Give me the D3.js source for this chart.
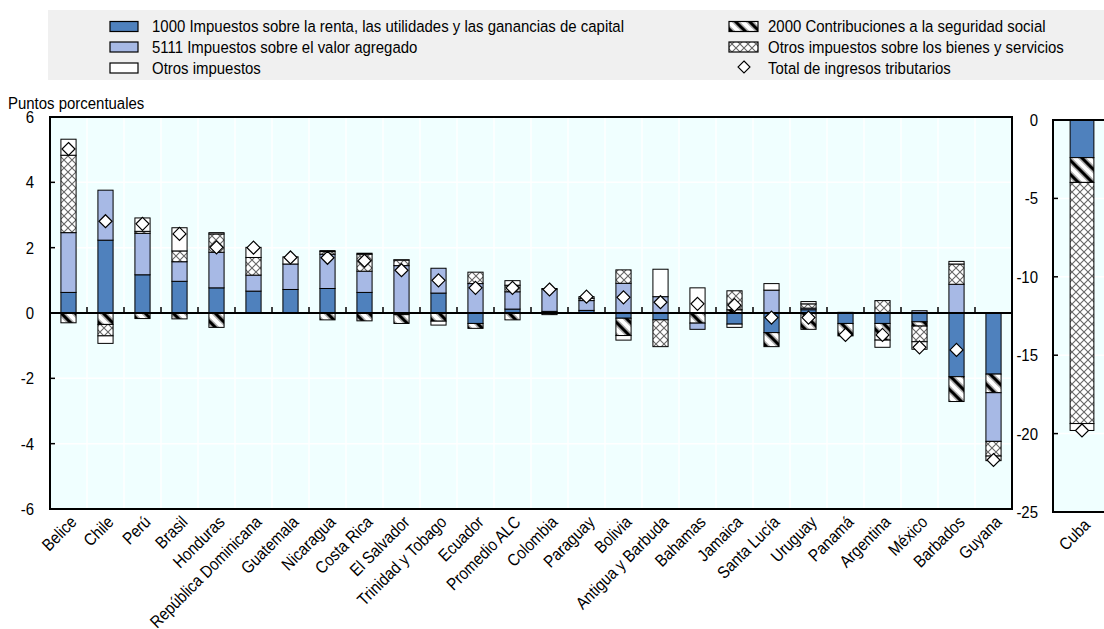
<!DOCTYPE html>
<html><head><meta charset="utf-8">
<script src="https://cdn.jsdelivr.net/npm/d3@7"></script>
<style>
body{margin:0;background:#fff;}
text{font-family:"Liberation Sans","Arial",sans-serif;fill:#000;}
</style></head>
<body><svg id="chart" width="1104" height="629"></svg>
<script>
const categories = ["Belice","Chile","Perú","Brasil","Honduras","República Dominicana","Guatemala","Nicaragua","Costa Rica","El Salvador","Trinidad y Tobago","Ecuador","Promedio ALC","Colombia","Paraguay","Bolivia","Antigua y Barbuda","Bahamas","Jamaica","Santa Lucía","Uruguay","Panamá","Argentina","México","Barbados","Guyana"];
const income    = [0.63,2.23,1.17,0.97,0.77,0.67,0.72,0.75,0.63,-0.05,0.61,-0.32,0.12,0.05,0.08,-0.16,-0.21,0,-0.34,-0.6,0.1,-0.32,-0.32,-0.27,-1.95,-1.87];
const socialSec = [-0.3,-0.35,-0.17,-0.18,-0.44,0,0,-0.21,-0.24,-0.27,-0.25,-0.15,-0.21,-0.05,0,-0.53,0,-0.31,0.1,-0.43,-0.5,-0.38,-0.51,-0.13,-0.76,-0.57];
const vat       = [1.83,1.53,1.27,0.6,1.09,0.49,0.78,1.05,0.65,1.45,0.76,0.9,0.53,0.68,0.3,0.91,0.5,-0.19,0,0.7,0.05,0,0,0.07,0.88,-1.49];
const goods     = [2.37,-0.35,0.06,0.33,0.56,0.54,0,0.08,0.52,0.17,0,0.35,0.2,0,0.07,0.41,-0.82,0,0.58,0,0.13,0,0.38,-0.48,0.62,-0.45];
const others    = [0.49,-0.23,0.41,0.71,0.04,0.31,0.22,0.03,0.03,0.01,-0.12,0,0.14,0.02,0.05,-0.14,0.84,0.77,-0.1,0.2,0.07,0.02,-0.22,-0.23,0.08,-0.14];
const totals    = [5.02,2.81,2.73,2.42,2.01,2.0,1.7,1.69,1.6,1.31,1.0,0.77,0.77,0.72,0.5,0.48,0.33,0.28,0.24,-0.14,-0.14,-0.67,-0.67,-1.05,-1.13,-4.5];

const cubaCategories = ["Cuba"];
const cubaIncome = [-2.4];
const cubaSocialSec = [-1.58];
const cubaVat = [0];
const cubaGoods = [-15.38];
const cubaOthers = [-0.44];
const cubaTotals = [-19.8];

const leftTicks = [-6,-4,-2,0,2,4,6];
const rightTicks = [-25,-20,-15,-10,-5,0];

const legendLeft = [
  {key:"income", label:"1000 Impuestos sobre la renta, las utilidades y las ganancias de capital"},
  {key:"vat", label:"5111 Impuestos sobre el valor agregado"},
  {key:"others", label:"Otros impuestos"}];
const legendRight = [
  {key:"ss", label:"2000 Contribuciones a la seguridad social"},
  {key:"goods", label:"Otros impuestos sobre los bienes y servicios"},
  {key:"total", label:"Total de ingresos tributarios"}];

const FS = 17, SX = 0.88;
const keys = ["income","ss","vat","goods","others"];
const svg = d3.select("#chart");
const defs = svg.append("defs");

// patterns
const pSS = defs.append("pattern").attr("id","pSS").attr("patternUnits","userSpaceOnUse")
  .attr("width",14).attr("height",14);
pSS.append("rect").attr("width",14).attr("height",14).attr("fill","#fff");
const diagPath = "M-2,-2 L16,16 M-2,12 L2,16 M12,-2 L16,2";
pSS.append("path").attr("d",diagPath).attr("stroke","#aaa").attr("stroke-width",6);
pSS.append("path").attr("d",diagPath).attr("stroke","#000").attr("stroke-width",3);

const pX = defs.append("pattern").attr("id","pX").attr("patternUnits","userSpaceOnUse")
  .attr("width",8).attr("height",8);
pX.append("rect").attr("width",8).attr("height",8).attr("fill","#fff");
pX.append("path").attr("d","M0,0 L8,8 M8,0 L0,8").attr("stroke","#666").attr("stroke-width",1.1);

const fills = {income:"#4f81bd", ss:"url(#pSS)", vat:"#a7b9e5", goods:"url(#pX)", others:"#ffffff"};

function ntext(parent, x, y, str, anchor, rotate){
  return parent.append("text")
    .attr("transform",`translate(${x},${y})${rotate?` rotate(${rotate})`:""} scale(${SX},1)`)
    .attr("text-anchor",anchor||"start").attr("dy","0.35em").attr("font-size",FS).text(str);
}

// legend
svg.append("rect").attr("x",48).attr("y",10).attr("width",1056).attr("height",70).attr("fill","#f0f0f0");
const rowsY = [26.5,47,68];
legendLeft.forEach((d,i)=>{
  svg.append("rect").attr("x",110).attr("y",rowsY[i]-5).attr("width",28).attr("height",10)
    .attr("fill",fills[d.key]).attr("stroke","#000").attr("stroke-width",1.2);
  ntext(svg,152,rowsY[i],d.label);
});
legendRight.forEach((d,i)=>{
  if(d.key==="total"){
    const cx=744, cy=rowsY[i]-1;
    svg.append("path").attr("d",`M${cx},${cy-6} L${cx+6},${cy} L${cx},${cy+6} L${cx-6},${cy} Z`)
      .attr("fill","#fff").attr("stroke","#000").attr("stroke-width",1.1);
  } else {
    svg.append("rect").attr("x",729).attr("y",rowsY[i]-5).attr("width",29).attr("height",10)
      .attr("fill",fills[d.key]).attr("stroke","#000").attr("stroke-width",1.2);
  }
  ntext(svg,768,rowsY[i],d.label);
});

ntext(svg,8,103,"Puntos porcentuales");

function panel(opts){
  const {x0,x1,y0,y1,domain,ticks,cats,rows,tot,barFrac,labelX,showVGrid} = opts;
  const x = d3.scaleBand().domain(cats).range([x0,x1]);
  const y = d3.scaleLinear().domain(domain).range([y1,y0]);
  const g = svg.append("g");
  g.append("rect").attr("x",x0).attr("y",y0).attr("width",x1-x0).attr("height",y1-y0).attr("fill","#f0ffff");
  g.selectAll(".hg").data(ticks.filter(t=>t!==domain[0]&&t!==domain[1]&&t!==0)).join("line")
    .attr("x1",x0).attr("x2",x1).attr("y1",d=>y(d)).attr("y2",d=>y(d)).attr("stroke","#fff").attr("stroke-width",1.5);
  if(showVGrid){
    g.selectAll(".vg").data(cats.slice(1)).join("line")
      .attr("x1",d=>x(d)).attr("x2",d=>x(d)).attr("y1",y0).attr("y2",y1).attr("stroke","#fff").attr("stroke-width",1.5);
  }
  const stack = d3.stack().keys(keys).offset(d3.stackOffsetDiverging)(rows);
  const bw = x.bandwidth()*barFrac;
  stack.forEach(layer=>{
    g.selectAll(null).data(layer.filter(d=>Math.abs(d[1]-d[0])>1e-9)).join("rect")
      .attr("x",d=>x(d.data.cat)+x.bandwidth()/2-bw/2)
      .attr("y",d=>y(Math.max(d[0],d[1])))
      .attr("width",bw)
      .attr("height",d=>Math.abs(y(d[0])-y(d[1])))
      .attr("fill",fills[layer.key]).attr("stroke","#000").attr("stroke-width",1);
  });
  if(domain[1]>0){
    g.append("line").attr("x1",x0).attr("x2",x1).attr("y1",y(0)).attr("y2",y(0)).attr("stroke","#000").attr("stroke-width",2);
    g.selectAll(".zt").data(cats.slice(1)).join("line")
      .attr("x1",d=>x(d)).attr("x2",d=>x(d)).attr("y1",y(0)).attr("y2",y(0)-6).attr("stroke","#000").attr("stroke-width",1.5);
  }
  g.selectAll(".dm").data(tot).join("path")
    .attr("d",(d,i)=>{const cx=x(cats[i])+x.bandwidth()/2, cy=y(d); return `M${cx},${cy-6.5} L${cx+6.5},${cy} L${cx},${cy+6.5} L${cx-6.5},${cy} Z`;})
    .attr("fill","#fff").attr("stroke","#000").attr("stroke-width",1.2);
  g.append("rect").attr("x",x0).attr("y",y0).attr("width",x1-x0).attr("height",y1-y0)
    .attr("fill","none").attr("stroke","#000").attr("stroke-width",2);
  g.selectAll(".yt").data(ticks.filter(t=>t!==domain[0]&&t!==domain[1])).join("line")
    .attr("x1",x0).attr("x2",x0+5).attr("y1",d=>y(d)).attr("y2",d=>y(d)).attr("stroke","#000").attr("stroke-width",1.5);
  ticks.forEach(t=>ntext(g,labelX,y(t),String(t),"end"));
  cats.forEach(c=>ntext(g,x(c)+x.bandwidth()/2+5,y1+10,c,"end",-45));
  return {x,y};
}

const rowsMain = categories.map((c,i)=>({cat:c,income:income[i],ss:socialSec[i],vat:vat[i],goods:goods[i],others:others[i]}));
panel({x0:50,x1:1012,y0:117,y1:509,domain:[-6,6],ticks:leftTicks,cats:categories,rows:rowsMain,tot:totals,barFrac:0.41,labelX:34,showVGrid:true});

const rowsCuba = cubaCategories.map((c,i)=>({cat:c,income:cubaIncome[i],ss:cubaSocialSec[i],vat:cubaVat[i],goods:cubaGoods[i],others:cubaOthers[i]}));
panel({x0:1053,x1:1111,y0:120,y1:512,domain:[-25,0],ticks:rightTicks,cats:cubaCategories,rows:rowsCuba,tot:cubaTotals,barFrac:0.41,labelX:1038,showVGrid:false});
</script></body></html>
